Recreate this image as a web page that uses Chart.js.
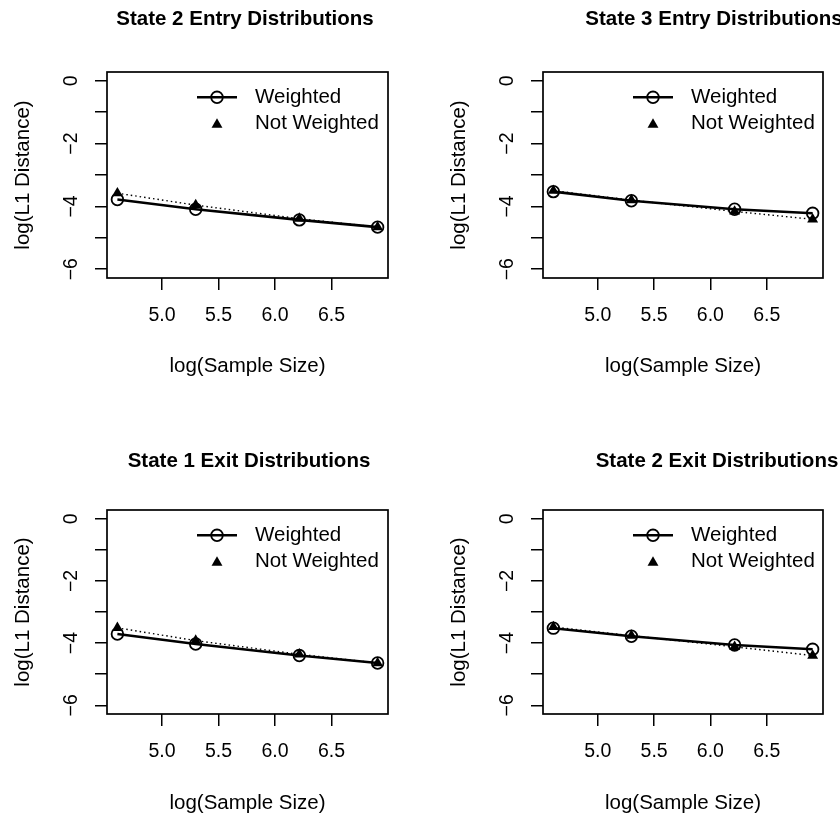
<!DOCTYPE html>
<html><head><meta charset="utf-8">
<script src="https://cdn.jsdelivr.net/npm/chart.js@4.4.1/dist/chart.umd.min.js"></script>
<style>
html,body{margin:0;padding:0;background:#fff;width:840px;height:822px;overflow:hidden}
.p{position:absolute}
canvas{display:block}
</style></head><body>
<div class="p" style="left:0;top:0"><canvas id="c0" width="420" height="438"></canvas></div>
<div class="p" style="left:420px;top:0"><canvas id="c1" width="420" height="438"></canvas></div>
<div class="p" style="left:0;top:438px"><canvas id="c2" width="420" height="384"></canvas></div>
<div class="p" style="left:420px;top:438px"><canvas id="c3" width="420" height="384"></canvas></div>
<script>
// ---- data ----
const logSampleSize = [4.605, 5.298, 6.215, 6.908];
const xTicks = [5.0, 5.5, 6.0, 6.5];
const yTicks = [0, -1, -2, -3, -4, -5, -6];
const yLabelled = [0, -2, -4, -6];
const panelTitles = ["State 2 Entry Distributions", "State 3 Entry Distributions",
                     "State 1 Exit Distributions", "State 2 Exit Distributions"];
const seriesNames = ["Weighted", "Not Weighted"];
const state2EntryWeighted    = [-3.78, -4.09, -4.43, -4.66];
const state2EntryNotWeighted = [-3.58, -3.96, -4.39, -4.66];
const state3EntryWeighted    = [-3.53, -3.82, -4.09, -4.22];
const state3EntryNotWeighted = [-3.50, -3.80, -4.16, -4.41];
const state1ExitWeighted     = [-3.71, -4.03, -4.40, -4.64];
const state1ExitNotWeighted  = [-3.51, -3.92, -4.36, -4.64];
const state2ExitWeighted     = [-3.52, -3.78, -4.06, -4.20];
const state2ExitNotWeighted  = [-3.48, -3.76, -4.12, -4.40];
const xAxisTitle = "log(Sample Size)";
const yAxisTitle = "log(L1 Distance)";

// ---- layout (positions / styles) ----
const FONT = '"Liberation Sans", Arial, Helvetica, sans-serif';
Chart.defaults.font.family = FONT;
Chart.defaults.color = '#000';
const TICK = 19.5, LABEL = 20.5, TITLE = 20.5;
const panels = [
  {id:'c0', title:panelTitles[0], w:state2EntryWeighted, n:state2EntryNotWeighted, shift:0,  padRight:32, tX:245, tY:19.5, xH:160, xTickPad:13.5, xTitlePad:59},
  {id:'c1', title:panelTitles[1], w:state3EntryWeighted, n:state3EntryNotWeighted, shift:16, padRight:17, tX:294, tY:19.5, xH:160, xTickPad:13.5, xTitlePad:59},
  {id:'c2', title:panelTitles[2], w:state1ExitWeighted,  n:state1ExitNotWeighted,  shift:0,  padRight:32, tX:249, tY:23.5, xH:108, xTickPad:14,   xTitlePad:6.5},
  {id:'c3', title:panelTitles[3], w:state2ExitWeighted,  n:state2ExitNotWeighted,  shift:16, padRight:17, tX:297, tY:23.5, xH:108, xTickPad:14,   xTitlePad:6.5}
];

function tri(ctx, x, y, r) {
  let rad = 0;
  ctx.beginPath();
  ctx.moveTo(x + Math.sin(rad) * r, y - Math.cos(rad) * r);
  rad += 2 * Math.PI / 3;
  ctx.lineTo(x + Math.sin(rad) * r, y - Math.cos(rad) * r);
  rad += 2 * Math.PI / 3;
  ctx.lineTo(x + Math.sin(rad) * r, y - Math.cos(rad) * r);
  ctx.closePath();
  ctx.fill();
}

const framePlugin = {
  id: 'frameLegend',
  afterDraw(chart, args, opts) {
    const {ctx, chartArea: a} = chart;
    const P = opts.panel;
    ctx.save();
    ctx.strokeStyle = '#000';
    ctx.fillStyle = '#000';
    // plot box
    ctx.lineWidth = 1.7;
    ctx.strokeRect(a.left, a.top, a.right - a.left, a.bottom - a.top);
    // main title
    ctx.font = 'bold ' + TITLE + 'px ' + FONT;
    ctx.textAlign = 'center';
    ctx.textBaseline = 'middle';
    ctx.fillText(P.title, P.tX, P.tY);
    // legend
    const sx = a.left + 110, tx = a.left + 148, y1 = a.top + 25.3, y2 = a.top + 51.5;
    ctx.lineWidth = 2.5;
    ctx.beginPath(); ctx.moveTo(a.left + 90, y1); ctx.lineTo(a.left + 130, y1); ctx.stroke();
    ctx.lineWidth = 1.8;
    ctx.beginPath(); ctx.arc(sx, y1, 5.8, 0, 2 * Math.PI); ctx.stroke();
    tri(ctx, sx, y2 + 1, 6.3);
    ctx.font = LABEL + 'px ' + FONT;
    ctx.textAlign = 'left';
    ctx.fillText(seriesNames[0], tx, y1);
    ctx.fillText(seriesNames[1], tx, y2);
    ctx.restore();
  }
};

const minus = v => v === 0 ? '0' : (v < 0 ? '\u2212' + (-v) : String(v));

panels.forEach(P => {
  new Chart(document.getElementById(P.id), {
    type: 'line',
    data: {
      datasets: [
        {
          label: seriesNames[0],
          data: logSampleSize.map((x, i) => ({x, y: P.w[i]})),
          borderColor: '#000', borderWidth: 2.6,
          pointStyle: 'circle', pointRadius: 5.8, pointBorderWidth: 1.8,
          pointBorderColor: '#000', pointBackgroundColor: 'rgba(0,0,0,0)',
          tension: 0, order: 2
        },
        {
          label: seriesNames[1],
          data: logSampleSize.map((x, i) => ({x, y: P.n[i]})),
          borderColor: '#000', borderWidth: 1.4, borderDash: [1.5, 3],
          pointStyle: 'triangle', pointRadius: 6.3, pointBorderWidth: 0,
          pointBackgroundColor: '#000', pointBorderColor: '#000',
          tension: 0, order: 1
        }
      ]
    },
    options: {
      responsive: false, animation: false, devicePixelRatio: 1,
      layout: {padding: {left: P.shift, right: P.padRight, top: 72, bottom: 0}},
      plugins: {
        legend: {display: false},
        tooltip: {enabled: false},
        title: {display: false},
        frameLegend: {panel: P}
      },
      scales: {
        x: {
          type: 'linear', min: 4.513, max: 7.0, bounds: 'data',
          afterBuildTicks: s => { s.ticks = xTicks.map(v => ({value: v})); },
          afterFit: s => { s.height = P.xH; },
          grid: {drawOnChartArea: false, drawTicks: true, tickLength: 12, color: '#000', lineWidth: 1.5},
          border: {display: false},
          ticks: {color: '#000', font: {size: TICK}, padding: P.xTickPad, autoSkip: false,
                  minRotation: 0, maxRotation: 0, callback: v => Number(v).toFixed(1)},
          title: {display: true, text: xAxisTitle, color: '#000', font: {size: LABEL},
                  padding: {top: 0, bottom: P.xTitlePad}}
        },
        y: {
          type: 'linear', min: -6.28, max: 0.28, bounds: 'data',
          afterBuildTicks: s => { s.ticks = yTicks.map(v => ({value: v})); },
          afterFit: s => { s.width = 107; },
          grid: {drawOnChartArea: false, drawTicks: true, tickLength: 12, color: '#000', lineWidth: 1.5},
          border: {display: false},
          ticks: {color: '#000', font: {size: TICK}, padding: 12.3, autoSkip: false,
                  minRotation: 90, maxRotation: 90, crossAlign: 'center',
                  callback: v => yLabelled.includes(v) ? minus(v) : ''},
          title: {display: true, text: yAxisTitle, color: '#000', font: {size: LABEL},
                  padding: {top: 11, bottom: 0}}
        }
      }
    },
    plugins: [framePlugin]
  });
});
</script>
</body></html>
